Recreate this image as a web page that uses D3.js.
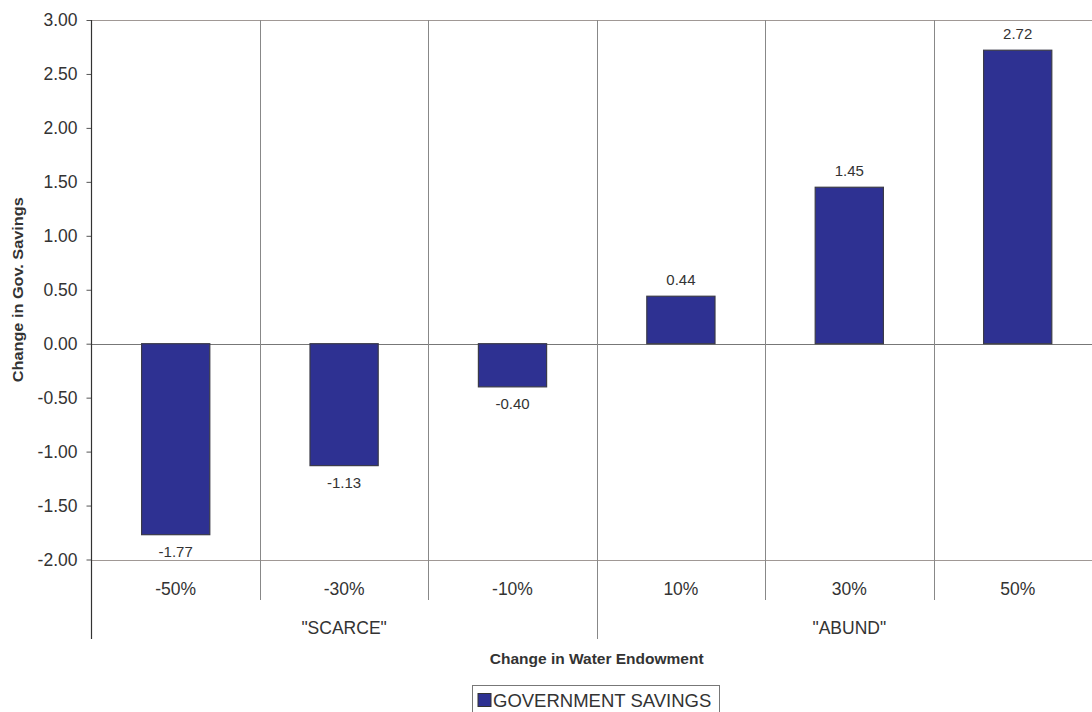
<!DOCTYPE html>
<html>
<head>
<meta charset="utf-8">
<script src="https://cdn.jsdelivr.net/npm/d3@7"></script>
<style>
  html, body { margin: 0; padding: 0; background: #fff; }
  svg { display: block; font-family: Arial, "Liberation Sans", sans-serif; }
</style>
</head>
<body>
<svg id="chart" width="1092" height="712"></svg>
<script>
// Change in government savings by water endowment scenario
const categories = ["-50%", "-30%", "-10%", "10%", "30%", "50%"];
const groups = ['"SCARCE"', '"ABUND"'];
const groupSizes = [3, 3];
const savings = [-1.77, -1.13, -0.40, 0.44, 1.45, 2.72];
const yTicks = [-2, -1.5, -1, -0.5, 0, 0.5, 1, 1.5, 2, 2.5, 3];
const seriesName = "GOVERNMENT SAVINGS";

const svg = d3.select("#chart");
const plotLeft = 91.5, plotTop = 20, plotBottom = 559.5;
const bandW = 168.4;
const plotRight = plotLeft + bandW * categories.length;

const x = d3.scaleBand().domain(categories).range([plotLeft, plotRight]).padding(0);
const y = d3.scaleLinear().domain([-2, 3]).range([plotBottom, plotTop]);

// plain hyphen-minus number format
const fmt = v => (v < 0 ? "-" : "") + Math.abs(v).toFixed(2);

const textCol = "#333";
const gridCol = "#888";
const frameCol = "#a09895";

// horizontal frame lines at top, zero and bottom
svg.selectAll("line.h").data([3, 0, -2]).enter().append("line")
  .attr("x1", plotLeft).attr("x2", plotRight)
  .attr("y1", d => Math.round(y(d)) + 0.5).attr("y2", d => Math.round(y(d)) + 0.5)
  .attr("stroke", d => d === 0 ? "#777" : frameCol).attr("stroke-width", 1.2);

// vertical separators between categories (longer one between groups)
let cum = 0;
const groupEdges = groupSizes.map(n => (cum += n));
categories.slice(1).forEach((c, i) => {
  const xi = Math.round(x(c)) + 0.5;
  const isGroup = groupEdges.includes(i + 1);
  svg.append("line")
    .attr("x1", xi).attr("x2", xi)
    .attr("y1", plotTop).attr("y2", isGroup ? 639 : 600)
    .attr("stroke", gridCol).attr("stroke-width", 1);
});

// bars
const barW = x.bandwidth() * 0.405;
svg.selectAll("rect.bar").data(savings).enter().append("rect")
  .attr("class", "bar")
  .attr("x", (d, i) => x(categories[i]) + (x.bandwidth() - barW) / 2)
  .attr("y", d => y(Math.max(0, d)))
  .attr("width", barW)
  .attr("height", d => Math.abs(y(d) - y(0)))
  .attr("fill", "#2e3192")
  .attr("stroke", "#3a3a48").attr("stroke-width", 1.2);

// value labels
svg.selectAll("text.val").data(savings).enter().append("text")
  .attr("x", (d, i) => x(categories[i]) + x.bandwidth() / 2)
  .attr("y", d => d >= 0 ? y(d) - 11 : y(d) + 22)
  .attr("text-anchor", "middle")
  .attr("font-size", 15).attr("fill", textCol)
  .text(fmt);

// y axis
const yAxis = d3.axisLeft(y).tickValues(yTicks).tickFormat(fmt).tickSize(5).tickPadding(9);
const gy = svg.append("g").attr("transform", `translate(${plotLeft},0)`).call(yAxis);
gy.select(".domain").remove();
gy.selectAll(".tick line").attr("stroke", "#555");
gy.selectAll(".tick text").attr("font-size", 17.5).attr("fill", textCol)
  .attr("font-family", "Arial, 'Liberation Sans', sans-serif");
svg.append("line").attr("x1", plotLeft).attr("x2", plotLeft).attr("y1", plotTop).attr("y2", 639)
  .attr("stroke", "#333").attr("stroke-width", 1.2);

// category labels
svg.selectAll("text.cat").data(categories).enter().append("text")
  .attr("x", d => x(d) + x.bandwidth() / 2)
  .attr("y", 595)
  .attr("text-anchor", "middle").attr("font-size", 17.5).attr("fill", textCol)
  .text(d => d);

// group labels
let start = 0;
groups.forEach((g, i) => {
  const a = x(categories[start]);
  const b = x(categories[start + groupSizes[i] - 1]) + x.bandwidth();
  svg.append("text").attr("x", (a + b) / 2).attr("y", 634)
    .attr("text-anchor", "middle").attr("font-size", 17.5).attr("fill", textCol)
    .text(g);
  start += groupSizes[i];
});

// axis titles
svg.append("text").attr("x", (plotLeft + plotRight) / 2).attr("y", 664)
  .attr("text-anchor", "middle").attr("font-size", 15.5).attr("font-weight", "bold")
  .attr("fill", textCol).text("Change in Water Endowment");
svg.append("text").attr("transform", `translate(23,${(plotTop + plotBottom) / 2}) rotate(-90)`)
  .attr("text-anchor", "middle").attr("font-size", 14.5).attr("font-weight", "bold")
  .attr("textLength", 185).attr("lengthAdjust", "spacingAndGlyphs")
  .attr("fill", textCol).text("Change in Gov. Savings");

// legend
const lg = svg.append("g");
lg.append("rect").attr("x", 472.5).attr("y", 685.5).attr("width", 247).attr("height", 40)
  .attr("fill", "#fff").attr("stroke", "#777").attr("stroke-width", 1);
lg.append("rect").attr("x", 478).attr("y", 693.5).attr("width", 13).attr("height", 13)
  .attr("fill", "#2e3192").attr("stroke", "#333").attr("stroke-width", 1);
lg.append("text").attr("x", 493).attr("y", 707).attr("font-size", 18.5).attr("fill", textCol)
  .text(seriesName);
</script>
</body>
</html>
